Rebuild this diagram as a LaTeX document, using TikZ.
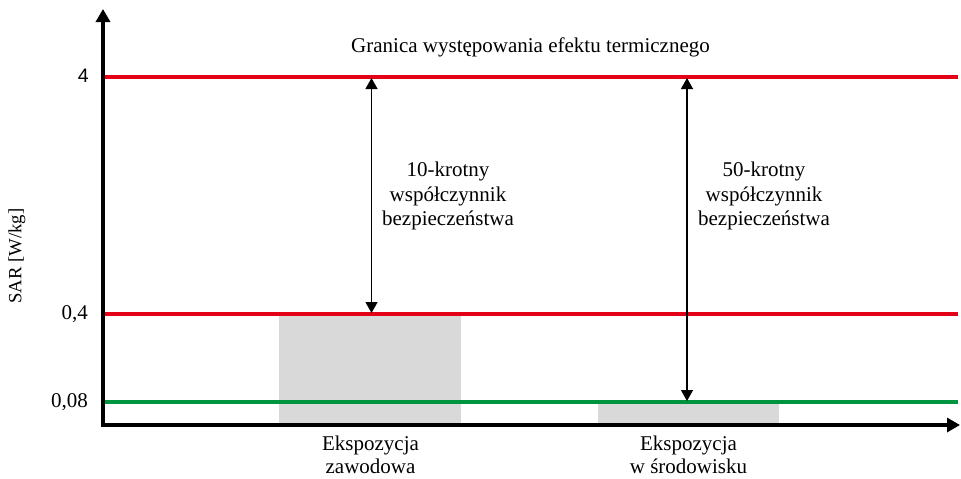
\documentclass[tikz,border=0pt]{standalone}
\usepackage{fontspec}
\setmainfont{Liberation Serif}
\newfontfamily\arialfont{Liberation Sans}
\usetikzlibrary{arrows.meta}
\definecolor{limred}{RGB}{228,0,22}
\definecolor{safegreen}{RGB}{0,148,62}
\definecolor{barfill}{RGB}{217,217,217}
\tikzset{
  txt/.style={font=\fontsize{21}{24.5}\selectfont, inner sep=0pt, align=center},
  btxt/.style={font=\fontsize{21}{22.5}\selectfont, inner sep=0pt, align=center, anchor=north},
  axis/.style={line width=4pt, -{Triangle[length=13pt,width=14pt]}},
  redline/.style={line width=4pt, draw=limred},
  greenline/.style={line width=4pt, draw=safegreen},
  bar/.style={fill=barfill, draw=none},
  dim/.style={line width=1.3pt, {Triangle[length=11pt,width=12pt]}-{Triangle[length=11pt,width=12pt]}, shorten <=1pt, shorten >=1pt}
}
\begin{document}
\begin{tikzpicture}[x=1pt,y=-1pt]
\useasboundingbox (0,0) rectangle (961,479);
% bars
\fill[bar] (279,316) rectangle (461,424);
\fill[bar] (598,404) rectangle (779,424);
% level lines
\coordinate (r4a) at (103,77);   \coordinate (r4b) at (958,77);
\coordinate (r04a) at (103,314); \coordinate (r04b) at (958,314);
\coordinate (g08a) at (103,402); \coordinate (g08b) at (958,402);
\draw[redline] (r4a) -- (r4b);
\draw[redline] (r04a) -- (r04b);
\draw[greenline] (g08a) -- (g08b);
% axes
\coordinate (origin) at (103,425);
\coordinate (ytop) at (103,9);
\coordinate (xstart) at (101,425);
\coordinate (xend) at (960,425);
\draw[axis, line cap=rect] (origin) -- (ytop);
\draw[axis] (xstart) -- (xend);
% dimension arrows
\coordinate (a1t) at (371.5,77);  \coordinate (a1b) at (371.5,314);
\coordinate (a2t) at (687,77);    \coordinate (a2b) at (687,402);
\draw[dim] (a1t) -- (a1b);
\draw[dim] (a2t) -- (a2b);
% texts
\node[txt] (title) at (530.5,47) {Granica występowania efektu termicznego};
\node[txt] (f10) at (448,196) {10-krotny\\współczynnik\\bezpieczeństwa};
\node[txt] (f50) at (764,196) {50-krotny\\współczynnik\\bezpieczeństwa};
\node[btxt] (e1) at (370.5,436) {Ekspozycja\\zawodowa};
\node[btxt] (e2) at (688.5,436) {Ekspozycja\\w środowisku};
% tick labels
\node[font=\arialfont\fontsize{19.5}{22}\selectfont, inner sep=0pt, anchor=east] (t4) at (89,76) {4};
\node[txt, anchor=east] (t04) at (88,314) {0,4};
\node[txt, anchor=east] (t008) at (88,402) {0,08};
\node[font=\fontsize{18.7}{22}\selectfont, inner sep=0pt, rotate=90] (ylab) at (17,256) {SAR [W/kg]};
\end{tikzpicture}
\end{document}
